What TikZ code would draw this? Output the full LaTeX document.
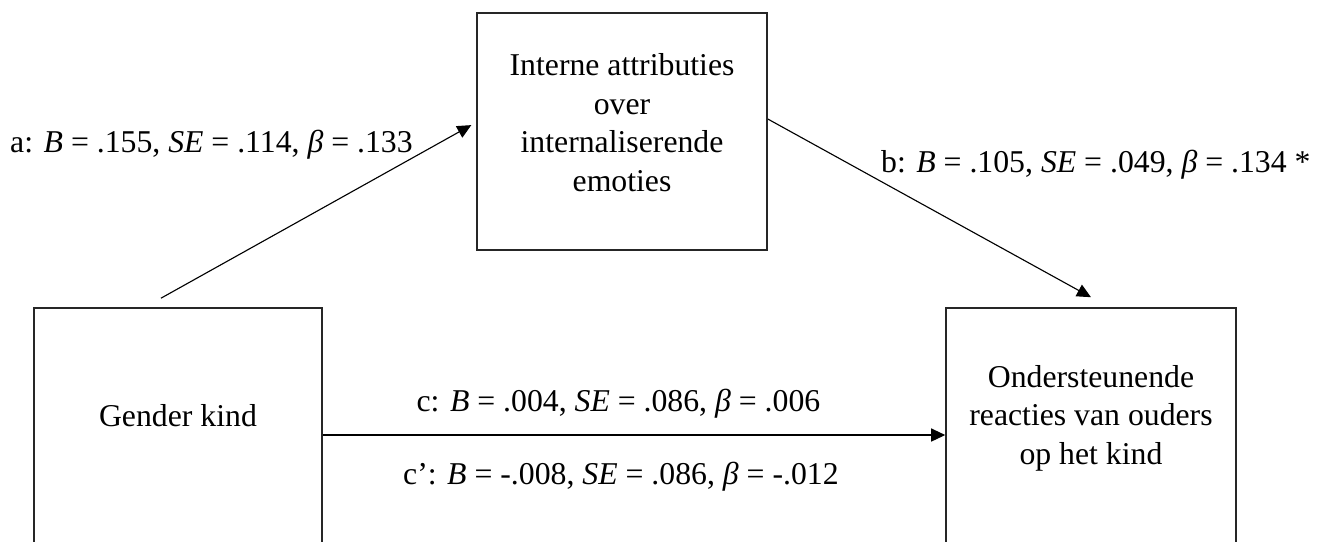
\documentclass[tikz,border=0pt]{standalone}
\usepackage{fontspec}
\setmainfont{Liberation Serif}
\usetikzlibrary{arrows.meta}
\usetikzlibrary{calc}
\pgfdeclarelayer{edgelayer}
\pgfdeclarelayer{nodelayer}
\pgfsetlayers{edgelayer,nodelayer,main}
\tikzstyle{construct_box}=[rectangle,draw=black!85,line width=0.6pt,minimum width=116pt,minimum height=94.8pt,inner sep=0pt]
\tikzstyle{box_text}=[align=center,font=\fontsize{12.7}{15.4}\selectfont]
\tikzstyle{coef}=[font=\fontsize{12.7}{15.4}\selectfont]
\tikzstyle{effect}=[-{Triangle[length=5.6pt,width=5.2pt]},draw=black,line width=0.45pt]

\begin{document}
\begin{tikzpicture}
	\useasboundingbox (0, 0) rectangle (18.628, -7.606);
	\begin{pgfonlayer}{nodelayer}
		\node [style={construct_box}] (0) at (8.745, -1.849) {};
		\node [style={construct_box}, minimum width=115.2pt] (1) at (2.502, -5.996) {};
		\node [style={construct_box}] (2) at (15.338, -5.996) {};
		\node [style={box_text}] (3) at (8.745, -1.722) {Interne attributies\\over\\internaliserende\\emoties};
		\node [style={box_text}, anchor=base] (4) at (2.502, -6.003) {Gender kind};
		\node [style={box_text}] (5) at (15.338, -5.877) {Ondersteunende\\reacties van ouders\\op het kind};
	\end{pgfonlayer}
	\begin{pgfonlayer}{edgelayer}
		\draw [style=effect] ($(1.north)+(-0.239,0.127)$) to node[style=coef, pos=0.84, anchor=base east]{a: \textit{B} = .155, \textit{SE} = .114, \textit{β} = .133} ($(0.west)+(-0.07,0.09)$);
		\draw [style=effect] ($(0.east)+(0,0.176)$) to node[style=coef, pos=0.3, anchor=base west, xshift=3pt]{b: \textit{B} = .105, \textit{SE} = .049, \textit{β} = .134 *} ($(2.north)+(0,0.141)$);
		\draw [style=effect] ($(1.east)+(0,-0.12)$) to node[style=coef, pos=0.475, anchor=base, yshift=9.6pt]{c: \textit{B} = .004, \textit{SE} = .086, \textit{β} = .006} node[style=coef, pos=0.479, anchor=base, yshift=-19.6pt]{c’: \textit{B} = -.008, \textit{SE} = .086, \textit{β} = -.012} ($(2.west)+(0,-0.12)$);
	\end{pgfonlayer}
\end{tikzpicture}
\end{document}
